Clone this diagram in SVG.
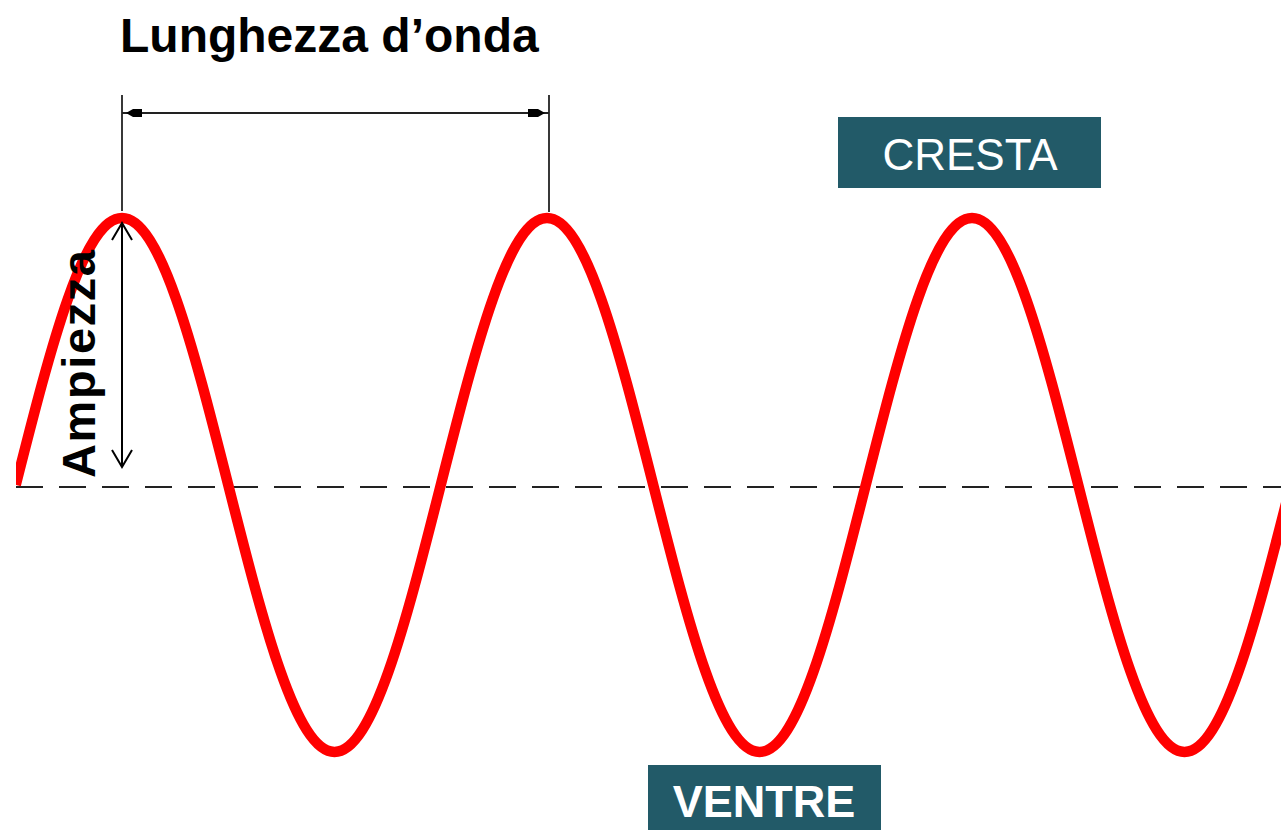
<svg xmlns="http://www.w3.org/2000/svg" width="1281" height="830" viewBox="0 0 1281 830">
  <style>
    .title { font-family: "Liberation Sans", Arial, sans-serif; font-weight: bold; fill: #000; }
    .lbl { font-family: "Liberation Sans", Arial, sans-serif; fill: #fff; text-anchor: middle; }
    .box { fill: #225a68; }
    .dim { stroke: #222; stroke-width: 1.8; fill: none; }
    .amp { stroke: #000; stroke-width: 2; fill: none; }
  </style>
  <defs>
    <clipPath id="clip"><rect x="16" y="0" width="1265" height="830"/></clipPath>
  </defs>
  <rect width="1281" height="830" fill="#fff"/>

  <g id="baseline">
    <line x1="16" y1="487" x2="1281" y2="487" stroke="#222" stroke-width="2" stroke-dasharray="27 16"/>
  </g>

  <g id="wave" clip-path="url(#clip)">
    <path fill="none" stroke="#ff0000" stroke-width="10.5" d="M15.75,485 c35.5,-140.2 68,-267 106.25,-267
      c38.25,0 70.75,126.8 106.25,267 c35.5,140.2 68,267 106.25,267 c38.25,0 70.75,-126.8 106.25,-267 c35.5,-140.2 68,-267 106.25,-267
      c38.25,0 70.75,126.8 106.25,267 c35.5,140.2 68,267 106.25,267 c38.25,0 70.75,-126.8 106.25,-267 c35.5,-140.2 68,-267 106.25,-267
      c38.25,0 70.75,126.8 106.25,267 c35.5,140.2 68,267 106.25,267 c38.25,0 70.75,-126.8 106.25,-267"/>
  </g>

  <g id="connectors">
    <line class="dim" x1="122" y1="95" x2="122" y2="211"/>
    <line class="dim" x1="549" y1="95" x2="549" y2="212"/>
    <line class="dim" x1="122" y1="113" x2="549" y2="113"/>
    <polygon points="126,113 133,109 142,109 142,117 133,117" fill="#000"/>
    <polygon points="545,113 538,109 528,109 528,117 538,117" fill="#000"/>
    <line class="amp" x1="122" y1="224" x2="122" y2="466"/>
    <polyline class="amp" points="112,240 122,223 132,240"/>
    <polyline class="amp" points="112,450 122,467 132,450"/>
  </g>

  <g id="lunghezza">
    <text class="title" x="120" y="52" font-size="48">Lunghezza d’onda</text>
  </g>

  <g id="ampiezza">
    <text class="title" font-size="47" textLength="228" transform="translate(95,478) rotate(-90)">Ampiezza</text>
  </g>

  <g id="cresta">
    <rect class="box" x="838" y="117" width="263" height="71"/>
    <text class="lbl" x="970" y="170" font-size="44">CRESTA</text>
  </g>

  <g id="ventre">
    <rect class="box" x="648" y="765" width="233" height="65"/>
    <text class="lbl" x="764" y="817" font-size="45" font-weight="bold">VENTRE</text>
  </g>
</svg>
